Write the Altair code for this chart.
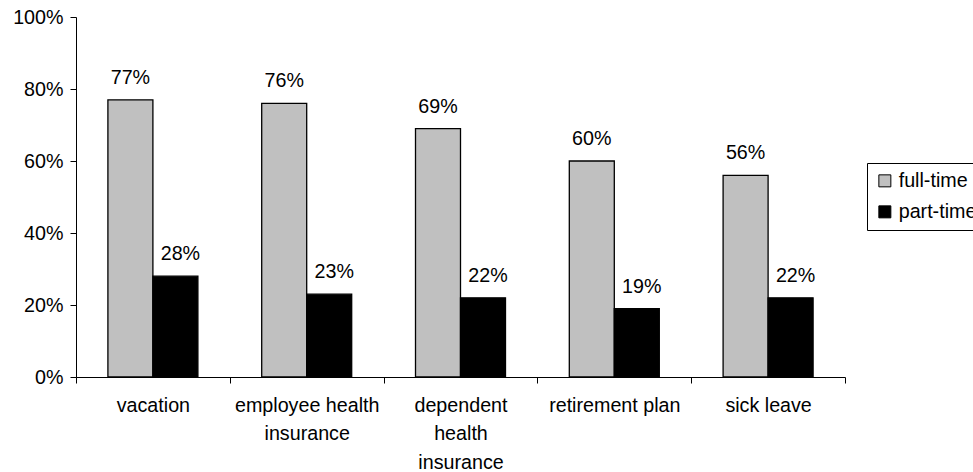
import altair as alt
import pandas as pd

categories = ["vacation", "employee health\ninsurance", "dependent\nhealth\ninsurance",
              "retirement plan", "sick leave"]
series = ["full-time", "part-time"]
full_time = [77, 76, 69, 60, 56]
part_time = [28, 23, 22, 19, 22]
y_ticks = [0, 20, 40, 60, 80, 100]
colors = ["#C0C0C0", "#000000"]

rows = []
for c, f, p in zip(categories, full_time, part_time):
    rows.append({"cat": c, "series": series[0], "value": f})
    rows.append({"cat": c, "series": series[1], "value": p})
df = pd.DataFrame(rows)

FONT = "Liberation Sans"
FS = 19.7

x_enc = alt.X("cat:N", sort=categories,
              scale=alt.Scale(paddingInner=0, paddingOuter=0),
              axis=alt.Axis(title=None, labelAngle=0, tickBand="extent",
                            labelExpr="split(datum.label, '\\n')",
                            labelLineHeight=28.5, labelFontSize=FS, labelFont=FONT,
                            labelColor="black", domainColor="black", tickColor="black",
                            tickSize=6, labelPadding=12, labelBaseline="top"))
xoff = alt.XOffset("series:N", sort=series,
                   scale=alt.Scale(paddingInner=0, paddingOuter=0.709))
y_enc = alt.Y("value:Q", scale=alt.Scale(domain=[0, 100]),
              axis=alt.Axis(title=None, values=y_ticks, labelExpr="datum.value + '%'",
                            grid=False, labelFontSize=FS, labelFont=FONT, labelColor="black",
                            domainColor="black", tickColor="black", tickSize=6,
                            labelPadding=7))

base = alt.Chart(df).transform_calculate(lbl="datum.value + '%'")

bars = base.mark_bar(stroke="black", strokeWidth=1.3).encode(
    x=x_enc, xOffset=xoff, y=y_enc,
    color=alt.Color("series:N", sort=series,
                    scale=alt.Scale(domain=series, range=colors),
                    legend=alt.Legend(title=None, orient="none", legendX=791, legendY=146,
                                      strokeColor="black", fillColor="white", padding=8,
                                      symbolType="square", symbolSize=144,
                                      symbolStrokeColor="black", symbolStrokeWidth=1,
                                      labelFontSize=FS, labelFont=FONT, labelColor="black",
                                      rowPadding=10, labelOffset=4)),
)

text_full = base.transform_filter(alt.datum.series == series[0]).mark_text(
    dy=-16, baseline="alphabetic", fontSize=FS, font=FONT, color="black"
).encode(x=x_enc, xOffset=xoff, y=y_enc, text="lbl:N")

text_part = base.transform_filter(alt.datum.series == series[1]).mark_text(
    dy=-16, dx=5, baseline="alphabetic", fontSize=FS, font=FONT, color="black"
).encode(x=x_enc, xOffset=xoff, y=y_enc, text="lbl:N")

chart = alt.layer(bars, text_full, text_part).properties(
    width=769, height=360, autosize="none", background="white",
    padding={"left": 76, "top": 17, "right": 128, "bottom": 95},
).configure_view(stroke=None)

chart.save("out.html", embed_options={"renderer": "svg", "actions": False})
